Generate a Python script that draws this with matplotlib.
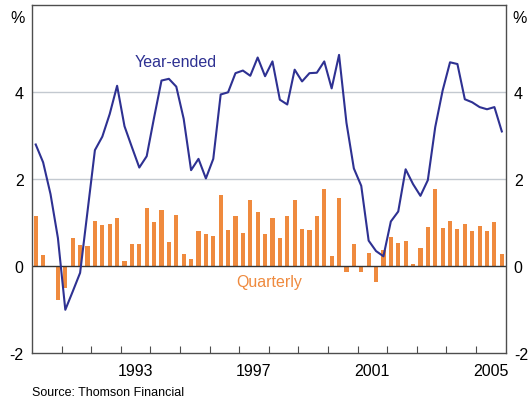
import numpy as np
import matplotlib
matplotlib.use('Agg')
import matplotlib.pyplot as plt

plt.rcParams['font.family'] = ['Liberation Sans', 'DejaVu Sans']

# ── Data (quarterly, 1990 Q1 – 2005 Q4) ──────────────────────────────────────
start_year = 1990
quarterly = [
    1.16, 0.26, 0.00, -0.77,   # 1990
    -0.51, 0.65, 0.49, 0.47,   # 1991
    1.04, 0.95, 0.97, 1.11,    # 1992
    0.12, 0.51, 0.51, 1.34,    # 1993
    1.02, 1.30, 0.56, 1.18,    # 1994
    0.28, 0.17, 0.81, 0.74,    # 1995
    0.70, 1.64, 0.84, 1.16,    # 1996
    0.77, 1.52, 1.25, 0.74,    # 1997
    1.11, 0.65, 1.16, 1.52,    # 1998
    0.86, 0.84, 1.16, 1.78,    # 1999
    0.24, 1.57, -0.12, 0.51,   # 2000
    -0.12, 0.31, -0.35, 0.38,  # 2001
    0.67, 0.54, 0.58, 0.05,    # 2002
    0.42, 0.90, 1.78, 0.88,    # 2003
    1.04, 0.86, 0.97, 0.81,    # 2004
    0.93, 0.81, 1.02, 0.28,    # 2005
]
year_ended = [
    2.80, 2.39, 1.66, 0.65,
    -1.00, -0.58, -0.15, 1.26,
    2.67, 2.98, 3.50, 4.15,
    3.22, 2.74, 2.27, 2.53,
    3.42, 4.27, 4.31, 4.13,
    3.39, 2.21, 2.47, 2.02,
    2.47, 3.95, 4.00, 4.44,
    4.50, 4.38, 4.80, 4.37,
    4.71, 3.83, 3.72, 4.52,
    4.25, 4.44, 4.45, 4.71,
    4.09, 4.86, 3.30, 2.25,
    1.85, 0.59, 0.35, 0.23,
    1.03, 1.26, 2.23, 1.89,
    1.62, 1.98, 3.20, 4.04,
    4.69, 4.65, 3.84, 3.77,
    3.66, 3.61, 3.66, 3.10,
]
year_labels = [1993, 1997, 2001, 2005]
y_ticks = [-2, 0, 2, 4]

NAVY = "#2e3192"
ORANGE = "#ef8a3e"
FRAME = "#4d4d4d"

# quarter mid-points in decimal years
x = start_year + (np.arange(len(quarterly)) + 0.5) / 4

fig = plt.figure(figsize=(5.31, 4.02), dpi=100)
ax = fig.add_axes([0.0603, 0.1187, 0.8917, 0.8656])

ax.bar(x, quarterly, width=0.14, color=ORANGE, zorder=2)
ax.plot(x, year_ended, color=NAVY, lw=1.5, zorder=3)

for yv in [2, 4]:
    ax.axhline(yv, color="#c3c9d0", lw=1.0, zorder=1)
ax.axhline(0, color="#333333", lw=1.0, zorder=2.5)

ax.set_xlim(1990, 2006)
ax.set_ylim(-2, 6)

# x axis: year ticks inside, labels centred on mid-year
ax.set_xticks(np.arange(1991, 2006), minor=False)
ax.set_xticklabels([])
ax.tick_params(axis="x", which="major", direction="in", length=5,
               color=FRAME, width=0.8, top=False)
ax.set_xticks([y + 0.5 for y in year_labels], minor=True)
ax.set_xticklabels([str(y) for y in year_labels], minor=True, fontsize=11.5)
ax.tick_params(axis="x", which="minor", length=0, pad=7)

# y axis labels on both sides
ax.set_yticks(y_ticks)
ax.set_yticklabels([str(v) for v in y_ticks], fontsize=11.5)
ax.tick_params(axis="y", length=0, pad=6, labelright=True, right=False)

for s in ax.spines.values():
    s.set_color(FRAME)
    s.set_linewidth(1.0)

fig.text(0.033, 0.955, "%", fontsize=11.5, ha="center", va="center")
fig.text(0.979, 0.955, "%", fontsize=11.5, ha="center", va="center")

ax.text(1993.48, 4.70, "Year-ended", color=NAVY, fontsize=11.5, ha="left", va="center")
ax.text(1996.9, -0.35, "Quarterly", color=ORANGE, fontsize=11.5, ha="left", va="center")

fig.text(0.06, 0.023, "Source: Thomson Financial", fontsize=9, ha="left", va="center")

plt.savefig("out.png", dpi=100)
